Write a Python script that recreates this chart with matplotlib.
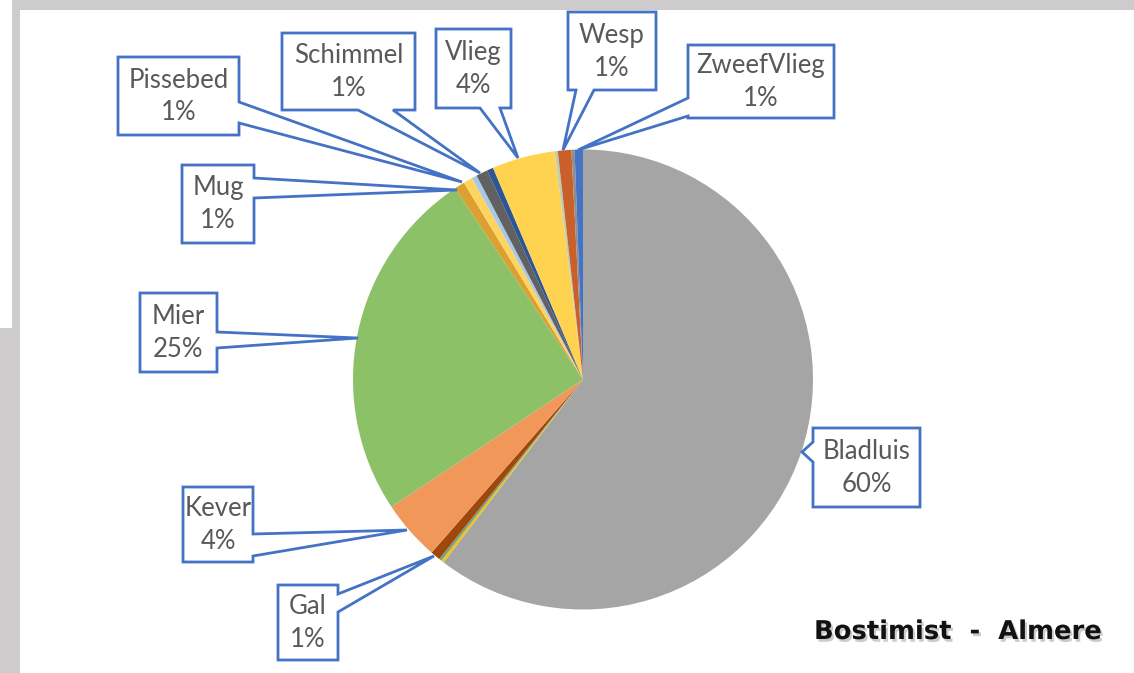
import matplotlib
matplotlib.use("Agg")
import matplotlib.pyplot as plt
from matplotlib.patches import Polygon, Rectangle
import matplotlib.patheffects as pe

# ---- data (clockwise from 12 o'clock) ----
categories = ["Bladluis", "", "", "Gal", "Kever", "Mier", "Mug", "Pissebed", "",
              "Schimmel", "", "Vlieg", "", "Wesp", "", "ZweefVlieg"]
values = [60.0, 0.19, 0.19, 0.69, 4.2, 24.8, 0.72, 0.64, 0.36,
          0.81, 0.44, 4.4, 0.22, 0.94, 0.22, 0.58]
colors = ["#A5A5A5", "#F2C21A", "#79A27E", "#9E480E", "#F1975A", "#8CC168",
          "#DBA032", "#FFD45C", "#A9C8E8", "#616161", "#2F5597", "#FFD34F",
          "#BFCDB5", "#C9602A", "#8E8E8E", "#4472C4"]
title_text = "Bostimist  -  Almere"

W, H = 1134, 673
fig = plt.figure(figsize=(W / 100, H / 100), dpi=100)
ax = fig.add_axes([0, 0, 1, 1])


def Y(y):
    return H - y


# screenshot background frame
gray = "#CDCBCC"
ax.add_patch(Rectangle((12, Y(673)), 8, 673, color=gray, lw=0, zorder=0))
ax.add_patch(Rectangle((0, Y(673)), 20, 673 - 328, color=gray, lw=0, zorder=0))
ax.add_patch(Rectangle((12, Y(10)), W - 12, 10, color=gray, lw=0, zorder=0))

cx, cy, r = 583, 379.5, 230
wedges, _ = ax.pie(values, colors=colors, startangle=90, counterclock=False,
                   center=(cx, Y(cy)), radius=r,
                   wedgeprops=dict(linewidth=0, antialiased=True))

total = sum(values)

# callout geometry: box (x0, y0, x1, y1), side, base (b1, b2), tip
callouts = {
    "Bladluis": ((813, 428, 920, 507), "left", (442, 462), (802, 452)),
    "Gal": ((278, 585, 338, 660), "right", (594, 612), (434, 556)),
    "Kever": ((183, 487, 253, 562), "right", (534, 556), (407, 530)),
    "Mier": ((140, 293, 217, 372), "right", (332, 348), (358, 338)),
    "Mug": ((182, 165, 254, 243), "right", (178, 198), (457, 190)),
    "Pissebed": ((118, 57, 239, 135), "right", (102, 123), (462, 182)),
    "Schimmel": ((282, 33, 415, 110), "bottom", (358, 393), (480, 173)),
    "Vlieg": ((436, 29, 511, 108), "bottom", (480, 500), (518, 158)),
    "Wesp": ((568, 12, 656, 90), "bottom", (576, 594), (563, 150)),
    "ZweefVlieg": ((688, 45, 834, 118), "left", (98, 116), (578, 150)),
}

blue = "#4472C4"
for name, val in zip(categories, values):
    if not name:
        continue
    (x0, y0, x1, y1), side, (b1, b2), (tx, ty) = callouts[name]
    pts = [(x0, y0), (x1, y0)]
    if side == "right":
        pts += [(x1, b1), (tx, ty), (x1, b2)]
    pts += [(x1, y1)]
    if side == "bottom":
        pts += [(b2, y1), (tx, ty), (b1, y1)]
    pts += [(x0, y1)]
    if side == "left":
        pts += [(x0, b2), (tx, ty), (x0, b1)]
    poly = Polygon([(px, Y(py)) for px, py in pts], closed=True,
                   facecolor="white", edgecolor=blue, lw=2.0, zorder=5,
                   joinstyle="miter")
    ax.add_patch(poly)
    pct = round(val / total * 100)
    xm = (x0 + x1) / 2
    ym = (y0 + y1) / 2
    ax.text(xm, Y(ym - 16), name, ha="center", va="center", fontsize=18.5,
            family="Lato", color="#595959", zorder=6)
    ax.text(xm, Y(ym + 17), f"{pct}%", ha="center", va="center", fontsize=18.5,
            family="Lato", color="#595959", zorder=6)

ax.text(958, Y(632), title_text, ha="center", va="center", fontsize=18.6,
        fontweight="bold", family="DejaVu Sans", color="#111111", zorder=6,
        path_effects=[pe.withSimplePatchShadow(offset=(1.5, -2), alpha=0.3,
                                               shadow_rgbFace="#555555")])

ax.set_xlim(0, W)
ax.set_ylim(0, H)
ax.set_aspect("equal")
ax.axis("off")
fig.savefig("out.png", dpi=100, facecolor="white")
